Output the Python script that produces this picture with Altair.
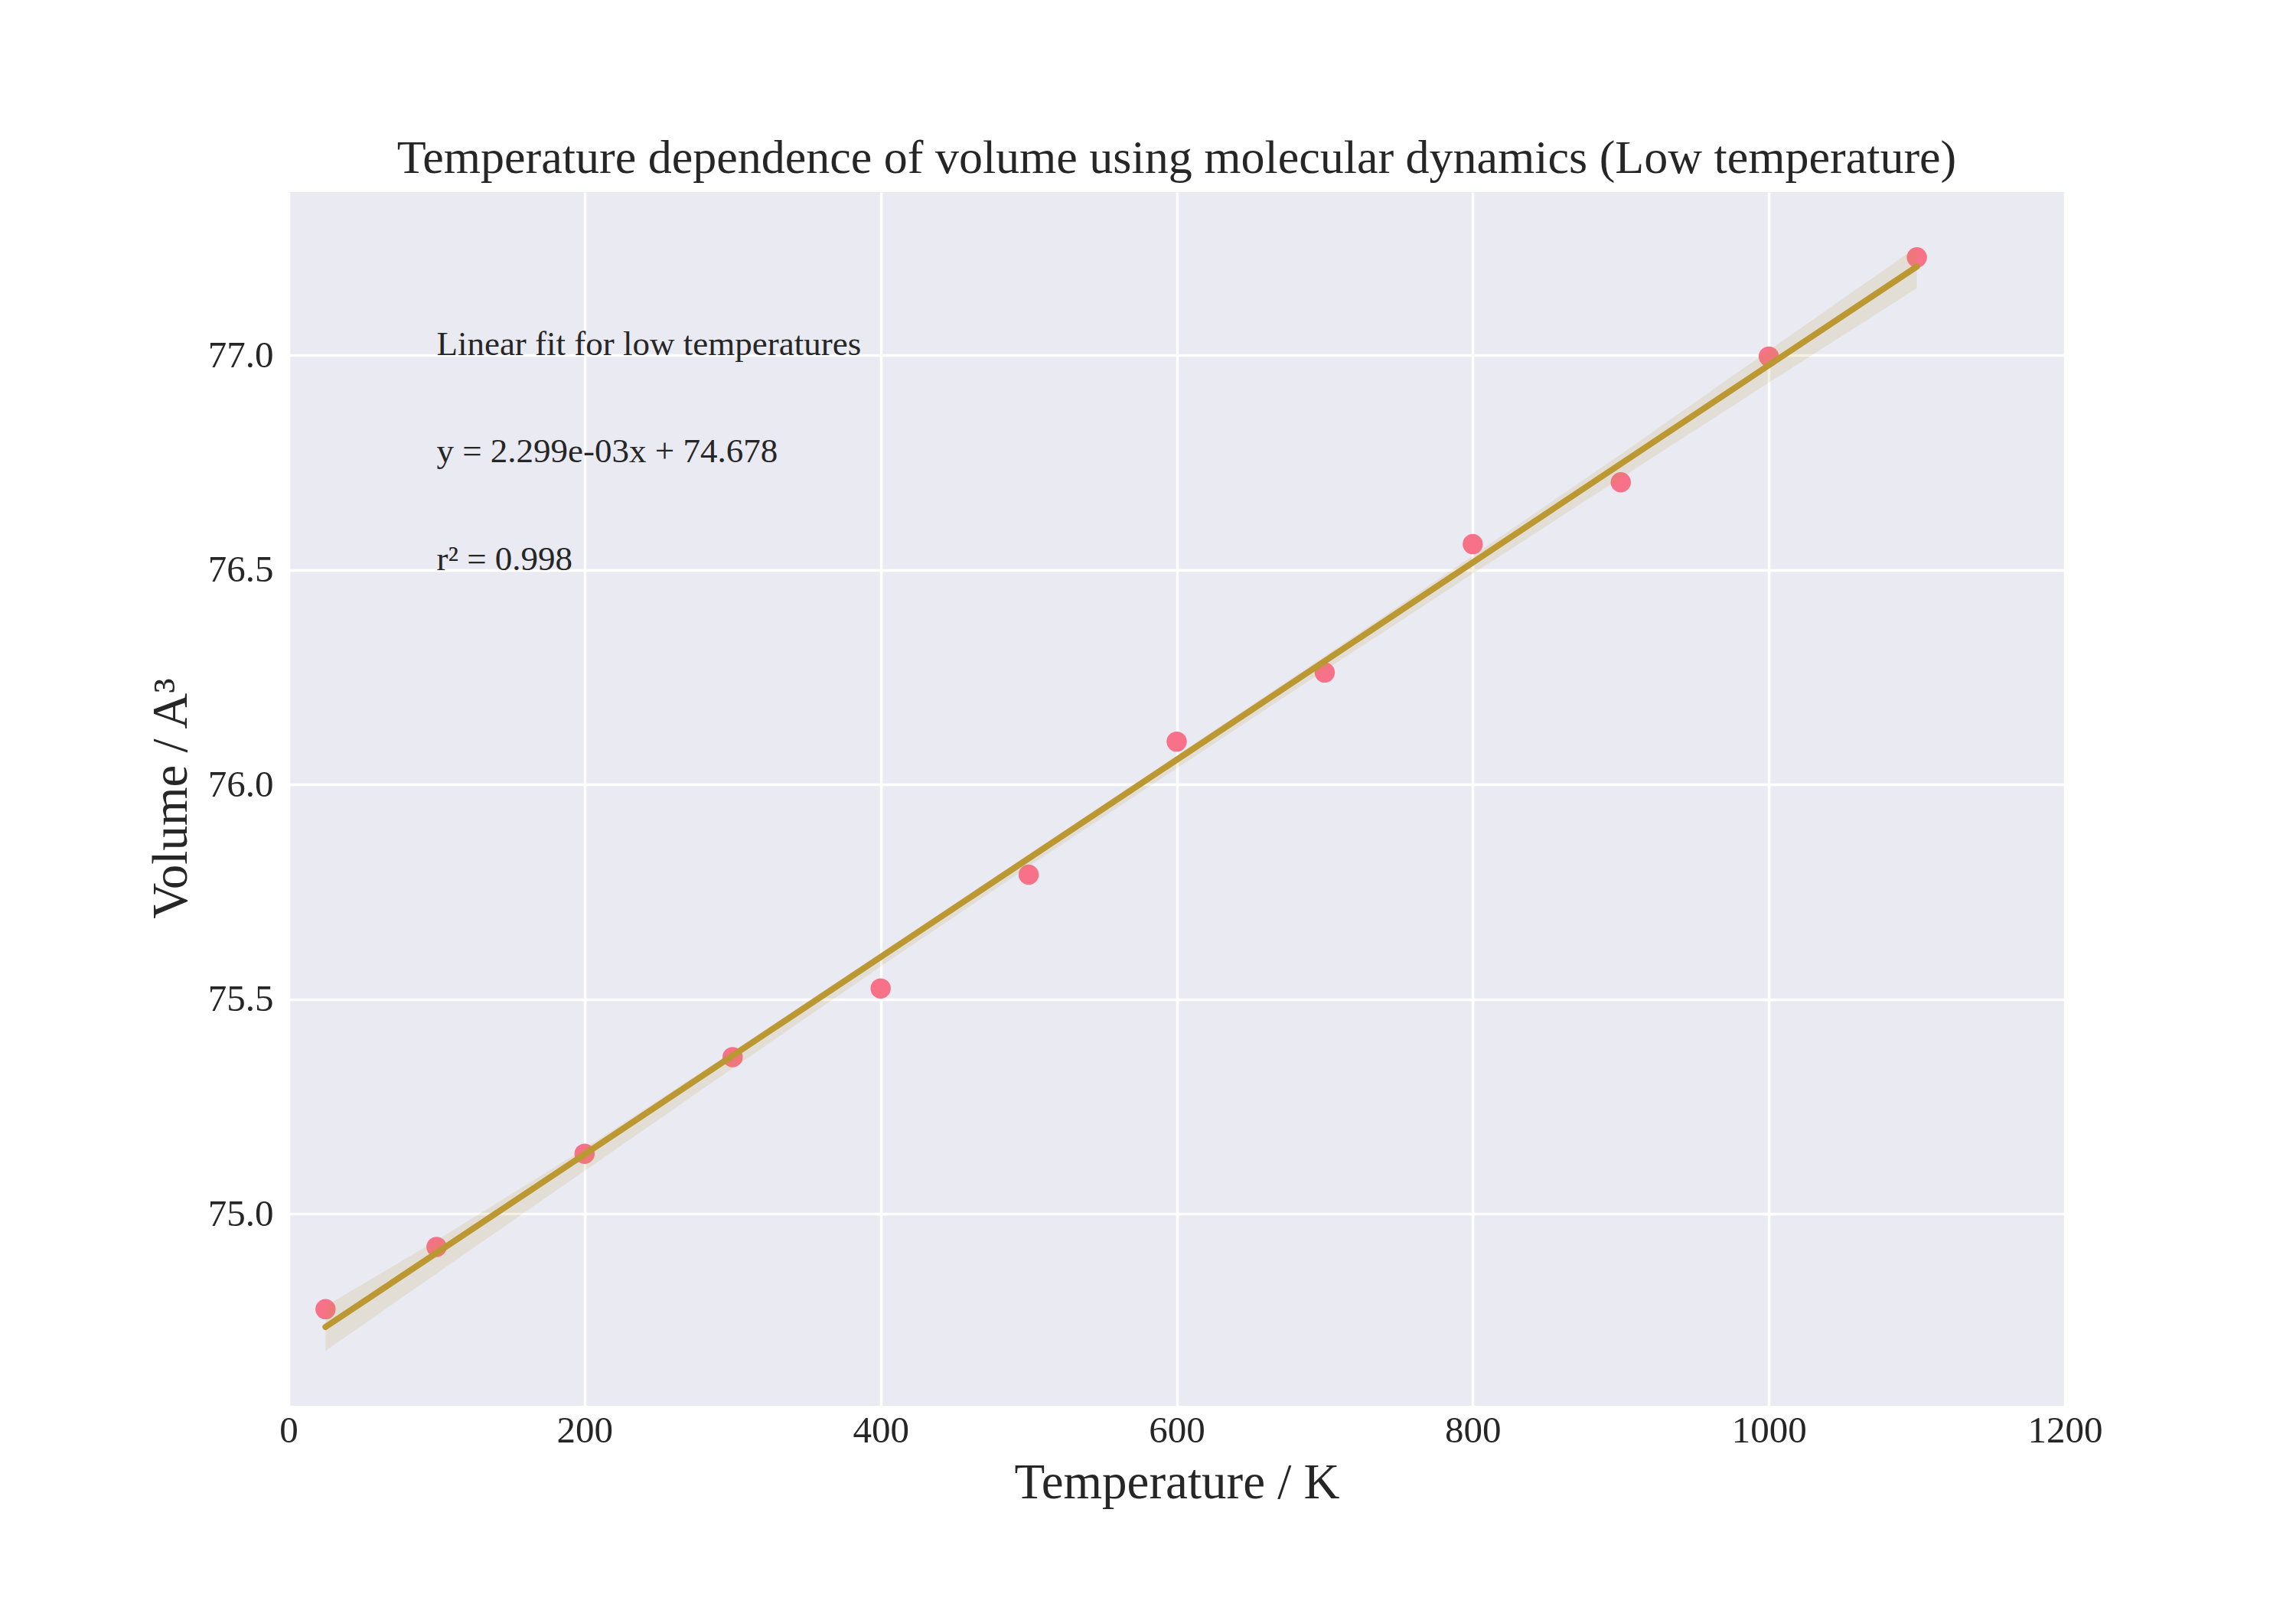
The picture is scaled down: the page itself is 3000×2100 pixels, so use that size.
import altair as alt
import pandas as pd

# ---- data ----
temps = [25, 100, 200, 300, 400, 500, 600, 700, 800, 900, 1000, 1100]
volumes = [74.778, 74.923, 75.140, 75.365, 75.525, 75.790, 76.100, 76.261,
           76.560, 76.704, 76.997, 77.228]

band_x = [25, 100, 200, 300, 400, 500, 600, 700, 800, 900, 1000, 1100]
band_upper = [74.785, 74.938, 75.152, 75.378, 75.607, 75.837, 76.067, 76.299,
              76.533, 76.769, 77.011, 77.252]
band_lower = [74.681, 74.861, 75.100, 75.339, 75.576, 75.809, 76.038, 76.266,
              76.491, 76.714, 76.936, 77.156]

ann_text = ["Linear fit for low temperatures", "y = 2.299e-03x + 74.678", "r\u00b2 = 0.998"]
ann_x = [100, 100, 100]
ann_y = [77.0, 76.75, 76.5]

x_ticks = [0, 200, 400, 600, 800, 1000, 1200]
y_ticks = [75.0, 75.5, 76.0, 76.5, 77.0]

title_text = "Temperature dependence of volume using molecular dynamics (Low temperature)"
x_title = "Temperature / K"
y_title = "Volume / A\u00b3"

# ---- styling ----
FONT = "Liberation Serif"
TXT = "#262626"
PT_COLOR = "#f77189"
LINE_COLOR = "#bb9832"
BG = "#eaeaf2"

pts = pd.DataFrame({"T": temps, "V": volumes})
band = pd.DataFrame({"T": band_x, "lo": band_lower, "hi": band_upper})
ann = pd.DataFrame({"T": ann_x, "V": ann_y, "label": ann_text})

xscale = alt.Scale(domain=[0, 1200], nice=False, zero=False)
yscale = alt.Scale(domain=[74.553, 77.38], nice=False, zero=False)

xaxis = alt.Axis(values=x_ticks, format="d", grid=True, gridColor="white",
                 gridWidth=3.5, domain=False, ticks=False, tickSize=0,
                 labelFont=FONT, labelFontSize=49, labelColor=TXT,
                 labelPadding=8, labelFlush=False,
                 title=x_title, titleFont=FONT, titleFontSize=65,
                 titleFontWeight="normal", titleColor=TXT,
                 titleY=120, titleBaseline="alphabetic")
yaxis = alt.Axis(values=y_ticks, format=".1f", grid=True, gridColor="white",
                 gridWidth=3.5, domain=False, ticks=False, tickSize=0,
                 labelFont=FONT, labelFontSize=49, labelColor=TXT,
                 labelPadding=20, labelFlush=False,
                 title=y_title, titleFont=FONT, titleFontSize=65,
                 titleFontWeight="normal", titleColor=TXT,
                 titleX=-134, titleY=792, titleAngle=270,
                 titleAlign="center", titleBaseline="alphabetic")

points = alt.Chart(pts).mark_circle(size=700, opacity=1, color=PT_COLOR).encode(
    x=alt.X("T:Q", scale=xscale, axis=xaxis),
    y=alt.Y("V:Q", scale=yscale, axis=yaxis),
)

ci = alt.Chart(band).mark_area(color=LINE_COLOR, opacity=0.15).encode(
    x=alt.X("T:Q", scale=xscale),
    y=alt.Y("lo:Q", scale=yscale),
    y2="hi:Q",
)

fit = alt.Chart(pts).transform_regression("T", "V").mark_line(
    color=LINE_COLOR, strokeWidth=8, strokeCap="round"
).encode(
    x=alt.X("T:Q", scale=xscale),
    y=alt.Y("V:Q", scale=yscale),
)

texts = alt.Chart(ann).mark_text(
    align="left", baseline="alphabetic", font=FONT, fontSize=45, color=TXT
).encode(
    x=alt.X("T:Q", scale=xscale),
    y=alt.Y("V:Q", scale=yscale),
    text="label:N",
)

chart = alt.layer(points, ci, fit, texts).properties(
    width=2321,
    height=1586,
    title=alt.TitleParams(title_text, font=FONT, fontSize=62, fontWeight="normal",
                          color=TXT, offset=-37, baseline="alphabetic",
                          anchor="middle", frame="group"),
    padding={"left": 369, "top": 243, "right": 290, "bottom": 240},
    autosize=alt.AutoSizeParams(type="none"),
    background="white",
).configure_view(fill=BG, strokeWidth=0)

chart.save("out.html", embed_options={"renderer": "svg", "actions": False})
